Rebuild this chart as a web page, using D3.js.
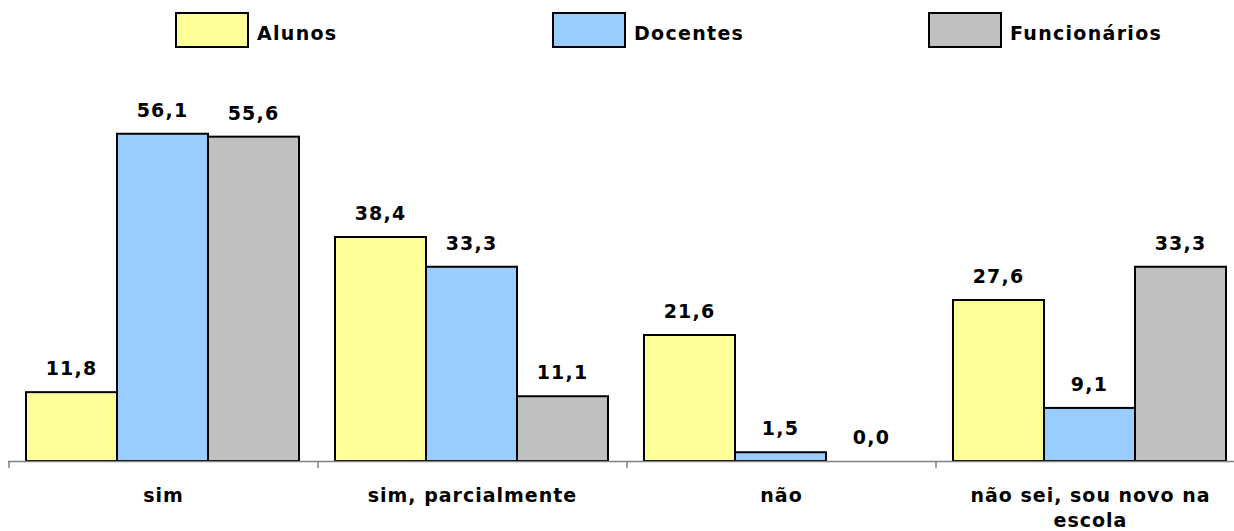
<!DOCTYPE html>
<html>
<head>
<meta charset="utf-8">
<script src="https://cdn.jsdelivr.net/npm/d3@7"></script>
<style>
  html, body { margin: 0; padding: 0; background: #fff; }
  svg { display: block; }
  text { font-family: "DejaVu Sans", Verdana, sans-serif; font-weight: bold; fill: #000; }
</style>
</head>
<body>
<svg id="chart" width="1234" height="531"></svg>
<script>
const categories = [["sim"], ["sim, parcialmente"], ["não"], ["não sei, sou novo na", "escola"]];
const seriesNames = ["Alunos", "Docentes", "Funcionários"];
const seriesColors = ["#FFFF99", "#99CCFF", "#C0C0C0"];
const alunos = [11.8, 38.4, 21.6, 27.6];
const docentes = [56.1, 33.3, 1.5, 9.1];
const funcionarios = [55.6, 11.1, 0.0, 33.3];
const seriesValues = [alunos, docentes, funcionarios];
const legendX = [176, 553, 929];

const svg = d3.select("#chart");
const baseY = 461;

const x0 = d3.scaleBand().domain(d3.range(categories.length)).range([9, 1245]).paddingInner(0).paddingOuter(0);
const x1 = d3.scaleBand().domain(d3.range(seriesNames.length)).range([17, x0.bandwidth() - 19]);
const y = d3.scaleLinear().domain([0, 60]).range([baseY, baseY - 350]);

const fmt = v => v.toFixed(1).replace(".", ",");

// bars
categories.forEach((c, ci) => {
  const g = svg.append("g").attr("transform", `translate(${x0(ci)},0)`);
  seriesValues.forEach((vals, si) => {
    const v = vals[ci];
    if (v > 0) {
      g.append("rect")
        .attr("x", x1(si))
        .attr("y", y(v))
        .attr("width", x1.bandwidth())
        .attr("height", y(0) - y(v))
        .attr("fill", seriesColors[si])
        .attr("stroke", "#000")
        .attr("stroke-width", 2);
    }
    g.append("text")
      .attr("x", x1(si) + x1.bandwidth() / 2)
      .attr("y", y(v) - 17)
      .attr("text-anchor", "middle")
      .attr("font-size", "19px")
      .attr("letter-spacing", "1.2px")
      .text(fmt(v));
  });
});

// axis
svg.append("line")
  .attr("x1", x0.range()[0] - 1).attr("x2", x0.range()[1])
  .attr("y1", baseY + 0.5).attr("y2", baseY + 0.5)
  .attr("stroke", "#808080").attr("stroke-width", 1.5);
d3.range(categories.length + 1).forEach(i => {
  const tx = x0.range()[0] + i * x0.bandwidth();
  svg.append("line")
    .attr("x1", tx).attr("x2", tx)
    .attr("y1", baseY).attr("y2", baseY + 7)
    .attr("stroke", "#808080").attr("stroke-width", 1.5);
});

// category labels
categories.forEach((lines, ci) => {
  const t = svg.append("text")
    .attr("x", x0(ci) + x0.bandwidth() / 2)
    .attr("y", 502)
    .attr("text-anchor", "middle")
    .attr("font-size", "19px")
    .attr("letter-spacing", "1px");
  lines.forEach((ln, li) => {
    t.append("tspan")
      .attr("x", x0(ci) + x0.bandwidth() / 2)
      .attr("dy", li === 0 ? 0 : 25)
      .text(ln);
  });
});

// legend
seriesNames.forEach((name, si) => {
  svg.append("rect")
    .attr("x", legendX[si]).attr("y", 13)
    .attr("width", 72).attr("height", 34)
    .attr("fill", seriesColors[si])
    .attr("stroke", "#000").attr("stroke-width", 2);
  svg.append("text")
    .attr("x", legendX[si] + 81).attr("y", 40)
    .attr("font-size", "19px")
    .attr("letter-spacing", "1.3px")
    .text(name);
});
</script>
</body>
</html>
